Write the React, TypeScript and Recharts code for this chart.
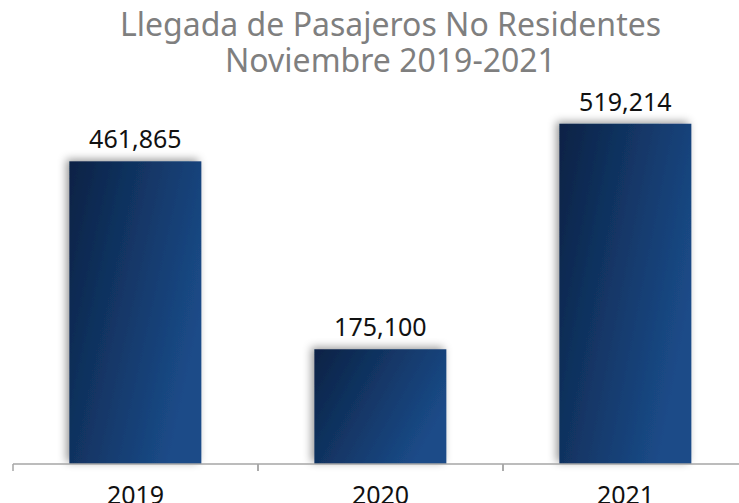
import { Bar, BarChart, XAxis, YAxis, LabelList } from "recharts";

const years = ["2019", "2020", "2021"];
const arrivals = [461865, 175100, 519214];
const titleLines = ["Llegada de Pasajeros No Residentes", "Noviembre 2019-2021"];

const data = years.map((year, i) => ({ year, value: arrivals[i] }));

const CHART_W = 770;
const MARGIN_L = 13;
const MARGIN_R = 22;
const HALF_BAND = (CHART_W - MARGIN_L - MARGIN_R) / years.length / 2;

function YearTick({ x, y, payload }: any) {
  return (
    <g>
      <line x1={x - HALF_BAND} y1={y} x2={x - HALF_BAND} y2={y + 7} stroke="#a6a6a6" strokeWidth={1.5} />
      <line x1={x + HALF_BAND} y1={y} x2={x + HALF_BAND} y2={y + 7} stroke="#a6a6a6" strokeWidth={1.5} />
      <text x={x} y={y + 30} textAnchor="middle" dominantBaseline="central" fill="#111" fontSize={25}>
        {payload.value}
      </text>
    </g>
  );
}

function ShadowBar({ x, y, width, height }: any) {
  return (
    <rect x={x} y={y} width={width} height={height} fill="url(#barFill)" filter="url(#barShadow)" />
  );
}

export default function App() {
  return (
    <div
      style={{
        position: "fixed",
        left: 0,
        top: 0,
        width: 739,
        height: 503,
        overflow: "hidden",
        background: "#fff",
        fontFamily: "'Noto Sans', sans-serif",
      }}
    >
      {titleLines.map((line, i) => (
        <div
          key={line}
          style={{
            position: "absolute",
            left: 21,
            top: 6 + i * 36,
            width: 739,
            textAlign: "center",
            color: "#7f7f7f",
            fontSize: 32,
            lineHeight: "35px",
            whiteSpace: "nowrap",
          }}
        >
          {line}
        </div>
      ))}
      <BarChart
        width={CHART_W}
        height={530}
        data={data}
        margin={{ top: 97, right: MARGIN_R, bottom: 26, left: MARGIN_L }}
        barCategoryGap="23%"
      >
        <defs>
          <linearGradient id="barFill" x1="0" y1="0" x2="1" y2="0.5">
            <stop offset="0%" stopColor="#0a2245" />
            <stop offset="100%" stopColor="#1b4b88" />
          </linearGradient>
          <filter id="barShadow" x="-30%" y="-20%" width="150%" height="140%">
            <feDropShadow dx={-3} dy={-2} stdDeviation={4} floodColor="#000" floodOpacity={0.4} />
          </filter>
        </defs>
        <XAxis
          dataKey="year"
          axisLine={{ stroke: "#a6a6a6", strokeWidth: 1.5 }}
          tickLine={false}
          tickSize={0}
          tickMargin={0}
          height={40}
          tick={<YearTick />}
          interval={0}
        />
        <YAxis hide domain={[0, 560000]} />
        <Bar dataKey="value" shape={<ShadowBar />} isAnimationActive={false}>
          <LabelList
            dataKey="value"
            position="top"
            offset={13}
            fill="#111"
            fontSize={25}
            formatter={(v: any) => Number(v).toLocaleString("en-US")}
          />
        </Bar>
      </BarChart>
    </div>
  );
}
